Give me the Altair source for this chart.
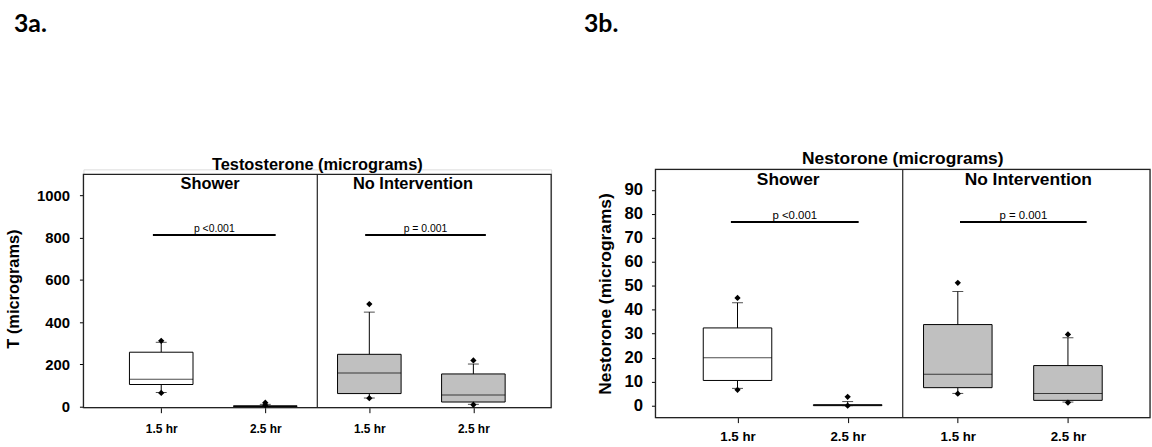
import json
import altair as alt
import pandas as pd

# ---------------- data ----------------
slots = [1, 2, 3, 4]
groups = ["Shower", "Shower", "No Intervention", "No Intervention"]
time_labels = ["1.5 hr", "2.5 hr", "1.5 hr", "2.5 hr"]
panel_names = ["Shower", "No Intervention"]

# Testosterone (micrograms)
t_q1 = [104, 0, 61, 21]
t_med = [129, 1, 159, 54]
t_q3 = [257, 3, 247, 154]
t_wlo = [66, 0, 40, 10]
t_whi = [304, 10, 447, 201]
t_out_lo = [64, 6, 39, 8]
t_out_hi = [311, 18, 485, 218]
t_p_text = ["p <0.001", "p = 0.001"]
t_p_value = [812, 812]
t_p_from = [0.92, 2.96]
t_p_to = [2.1, 4.12]
t_label_x = [1.47, 3.42]

# Nestorone (micrograms)
n_q1 = [10.5, 0.0, 7.5, 2.2]
n_med = [20.0, 0.2, 13.1, 5.1]
n_q3 = [32.4, 0.4, 33.8, 16.7]
n_wlo = [7.2, 0.0, 5.1, 1.5]
n_whi = [42.9, 1.7, 47.6, 28.3]
n_out_lo = [6.6, 0.0, 5.0, 1.3]
n_out_hi = [44.9, 3.7, 51.2, 29.7]
n_p_text = ["p <0.001", "p = 0.001"]
n_p_value = [76.6, 76.6]
n_p_from = [0.94, 3.02]
n_p_to = [2.1, 4.17]
n_label_x = [1.46, 3.64]

FONT = "Liberation Sans"
label_expr = json.dumps([""] + time_labels) + "[datum.value]"


def panel(q1, med, q3, wlo, whi, out_lo, out_hi, p_text, p_value, p_from, p_to,
          label_x, y_domain, y_ticks, y_title, chart_title, fig_tag, w, h, frame_top,
          box_w, fs_big, fs_tick, fs_x, fs_p, ytitle_pad, ylabel_pad, xlabel_pad,
          tag_xy, title_dy, panel_dy):
    boxes = pd.DataFrame({"slot": slots, "group": groups, "q1": q1, "med": med, "q3": q3})
    whisk = pd.DataFrame({
        "slot": slots * 2,
        "a": q1 + q3,
        "b": wlo + whi,
    })
    dots = pd.DataFrame({"slot": slots * 2, "v": out_lo + out_hi})
    pdf = pd.DataFrame({
        "x1": p_from, "x2": p_to, "y": p_value, "text": p_text,
        "xm": [(a + b) / 2 for a, b in zip(p_from, p_to)],
    })
    labels = pd.DataFrame({"x": label_x, "text": panel_names})
    divider = pd.DataFrame({"x": [2.5]})
    one = pd.DataFrame({"t": [chart_title], "tag": [fig_tag]})

    xscale = alt.Scale(domain=[0.3, 4.7], nice=False, zero=False)
    xaxis = alt.Axis(values=slots, labelExpr=label_expr, title=None, grid=False,
                     domain=False, tickSize=5, tickColor="black", labelPadding=xlabel_pad,
                     labelFont=FONT, labelFontWeight="bold", labelFontSize=fs_x,
                     labelColor="black")
    yscale = alt.Scale(domain=y_domain, nice=False, zero=False)
    yaxis = alt.Axis(values=y_ticks, format="d", title=y_title, grid=False, domain=False,
                     tickSize=4, tickColor="black", labelPadding=ylabel_pad,
                     labelFont=FONT, labelFontWeight="bold", labelFontSize=fs_tick,
                     labelColor="black", titleFont=FONT, titleFontWeight="bold",
                     titleFontSize=fs_big, titleColor="black", titlePadding=ytitle_pad)

    X = lambda f: alt.X(f, scale=xscale, axis=xaxis)
    Y = lambda f: alt.Y(f, scale=yscale, axis=yaxis)

    frame_l = alt.Chart(one).mark_rect(fill="transparent", stroke="#222",
                                       strokeWidth=1.3).encode(
        x=alt.value(0), x2=alt.value(w), y=alt.value(frame_top), y2=alt.value(h))
    div_l = alt.Chart(divider).mark_rule(color="#222", strokeWidth=1.2).encode(
        x=X("x:Q"), y=alt.value(frame_top), y2=alt.value(h))
    whisk_l = alt.Chart(whisk).mark_rule(color="black", strokeWidth=1).encode(
        x=X("slot:Q"), y=Y("a:Q"), y2="b:Q")
    caps_l = alt.Chart(whisk).mark_tick(orient="horizontal", size=11, thickness=1,
                                        color="black").encode(x=X("slot:Q"), y=Y("b:Q"))
    box_l = alt.Chart(boxes).mark_bar(size=box_w, stroke="black", strokeWidth=1).encode(
        x=X("slot:Q"), y=Y("q1:Q"), y2="q3:Q",
        color=alt.Color("group:N", scale=alt.Scale(domain=panel_names,
                                                   range=["#ffffff", "#c0c0c0"]),
                        legend=None))
    med_l = alt.Chart(boxes).mark_tick(orient="horizontal", size=box_w, thickness=1,
                                       color="black").encode(x=X("slot:Q"), y=Y("med:Q"))
    dot_l = alt.Chart(dots).mark_point(shape="diamond", filled=True, size=40,
                                       color="black", opacity=1).encode(
        x=X("slot:Q"), y=Y("v:Q"))
    pline_l = alt.Chart(pdf).mark_rule(color="black", strokeWidth=2).encode(
        x=X("x1:Q"), x2="x2:Q", y=Y("y:Q"))
    ptext_l = alt.Chart(pdf).mark_text(baseline="bottom", dy=-1, font=FONT,
                                       fontSize=fs_p, color="black").encode(
        x=X("xm:Q"), y=Y("y:Q"), text="text:N")
    lab_l = alt.Chart(labels).mark_text(baseline="middle", font=FONT, fontWeight="bold",
                                        fontSize=fs_big, color="black").encode(
        x=X("x:Q"), y=alt.value(panel_dy), text="text:N")
    title_l = alt.Chart(one).mark_text(
        baseline="middle", font=FONT, fontWeight="bold", fontSize=fs_big,
        color="black").encode(x=alt.value(w / 2), y=alt.value(title_dy), text="t:N")
    tag_l = alt.Chart(one).mark_text(
        align="left", baseline="alphabetic", font="Lato", fontWeight="bold",
        fontSize=25, color="black").encode(x=alt.value(tag_xy[0]), y=alt.value(tag_xy[1]),
                                           text="tag:N")

    return alt.layer(frame_l, div_l, whisk_l, caps_l, box_l, med_l, dot_l, pline_l,
                     ptext_l, lab_l, title_l, tag_l).properties(width=w, height=h)


left = panel(t_q1, t_med, t_q3, t_wlo, t_whi, t_out_lo, t_out_hi, t_p_text, t_p_value,
             t_p_from, t_p_to, t_label_x, [-6, 1123.5], [0, 200, 400, 600, 800, 1000],
             "T (micrograms)", "Testosterone (micrograms)", "3a.", 471, 240, 5,
             64, 16.5, 15, 12, 10.5, 15, 10, 11, (-70, -138.5), -4, 15)

right = panel(n_q1, n_med, n_q3, n_wlo, n_whi, n_out_lo, n_out_hi, n_p_text, n_p_value,
              n_p_from, n_p_to, n_label_x, [-5, 98.5], list(range(0, 91, 10)),
              "Nestorone (micrograms)", "Nestorone (micrograms)", "3b.", 498, 250, 0,
              69, 17.5, 16.8, 13.4, 11.5, 10, 9, 7, (-72, -138.5), -10, 10.7)

chart = alt.hconcat(left, right, spacing=30).properties(
    padding={"left": 5, "top": 10, "right": 0, "bottom": 0}
).configure_view(stroke="transparent").configure(background="white")

chart.save("out.html", embed_options={"renderer": "svg", "actions": False})
